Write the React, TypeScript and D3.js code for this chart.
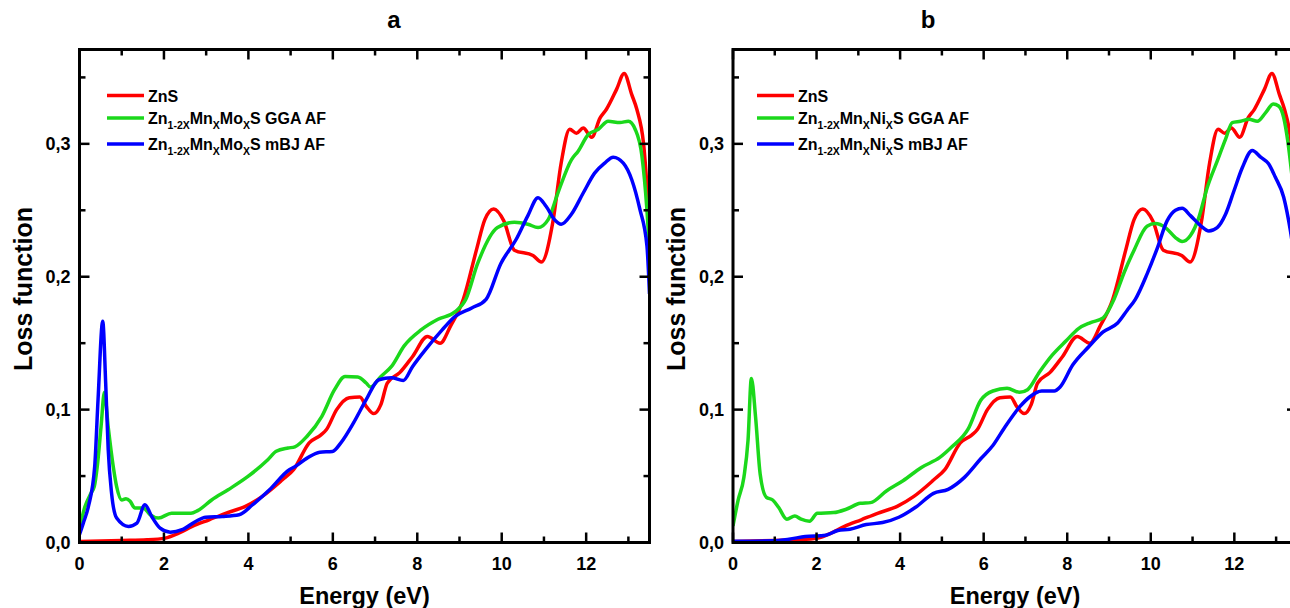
import React from "react";
import * as d3 from "d3";

// ---------- data ----------
const xTicksMajor = [0, 2, 4, 6, 8, 10, 12];
const xTicksMinor = [1, 3, 5, 7, 9, 11, 13];
const yTicksMajor = [0, 0.1, 0.2, 0.3];
const yTicksMinor = [0.05, 0.15, 0.25, 0.35];
const yTickLabels = ["0,0", "0,1", "0,2", "0,3"];
const panelTitles = ["a", "b"];

// ZnS (same in both panels)
const znsE = [0, 1, 1.6, 2.03, 2.35, 2.67, 3.07, 3.46, 3.93, 4.33, 4.8, 5.07, 5.44, 5.72, 5.85, 6.09, 6.39, 6.64, 6.79, 6.97, 7.14, 7.29, 7.59, 7.89, 8.24, 8.54, 8.79, 9.09, 9.4, 9.6, 9.81, 10.05, 10.3, 10.74, 10.94, 11.21, 11.41, 11.61, 11.77, 11.93, 12.13, 12.33, 12.48, 12.72, 12.9, 13.08, 13.2, 13.36, 13.5];
const znsV = [0.0008, 0.0015, 0.002, 0.0033, 0.0071, 0.0121, 0.0171, 0.022, 0.0272, 0.0347, 0.047, 0.0548, 0.075, 0.081, 0.085, 0.1, 0.109, 0.1095, 0.1025, 0.097, 0.104, 0.12, 0.128, 0.14, 0.155, 0.15, 0.163, 0.183, 0.22, 0.243, 0.251, 0.242, 0.22, 0.216, 0.211, 0.241, 0.286, 0.311, 0.308, 0.312, 0.305, 0.3195, 0.326, 0.341, 0.353, 0.337, 0.326, 0.3, 0.24];

// Panel a: Zn1-2xMnxMoxS GGA AF
const moGgaE = [0, 0.13, 0.27, 0.35, 0.42, 0.51, 0.59, 0.68, 0.8, 0.88, 1.0, 1.1, 1.2, 1.31, 1.51, 1.67, 1.87, 2.18, 2.64, 2.8, 3.13, 3.52, 3.99, 4.46, 4.66, 4.94, 5.1, 5.39, 5.74, 6.04, 6.29, 6.59, 6.79, 6.89, 7.14, 7.39, 7.69, 8.09, 8.49, 8.89, 9.15, 9.43, 9.9, 10.3, 10.62, 10.86, 11.1, 11.33, 11.65, 11.81, 12.05, 12.29, 12.52, 12.8, 13.0, 13.16, 13.32, 13.44, 13.5];
const moGgaV = [0.011, 0.027, 0.037, 0.042, 0.057, 0.087, 0.113, 0.087, 0.057, 0.042, 0.032, 0.033, 0.031, 0.026, 0.026, 0.021, 0.0184, 0.022, 0.022, 0.024, 0.032, 0.0397, 0.0497, 0.0623, 0.0686, 0.0711, 0.072, 0.08, 0.095, 0.115, 0.125, 0.1245, 0.12, 0.117, 0.125, 0.1325, 0.148, 0.16, 0.168, 0.1735, 0.183, 0.21, 0.237, 0.241, 0.2395, 0.237, 0.243, 0.263, 0.288, 0.2945, 0.307, 0.311, 0.317, 0.316, 0.317, 0.311, 0.291, 0.25, 0.22];

// Panel a: Zn1-2xMnxMoxS mBJ AF
const moMbjE = [0, 0.09, 0.21, 0.36, 0.44, 0.55, 0.62, 0.68, 0.76, 0.88, 1.16, 1.36, 1.55, 1.71, 1.91, 2.15, 2.43, 2.75, 2.99, 3.38, 3.78, 4.1, 4.5, 4.97, 5.1, 5.39, 5.69, 5.99, 6.19, 6.49, 6.79, 7.09, 7.39, 7.67, 7.89, 8.19, 8.59, 8.89, 9.29, 9.63, 9.98, 10.34, 10.62, 10.86, 11.05, 11.25, 11.41, 11.65, 11.93, 12.2, 12.44, 12.64, 12.88, 13.08, 13.27, 13.44, 13.5];
const moMbjV = [0.006, 0.0146, 0.027, 0.0573, 0.108, 0.1665, 0.12, 0.07, 0.037, 0.0184, 0.0121, 0.0146, 0.0284, 0.0196, 0.0108, 0.0078, 0.0096, 0.0158, 0.019, 0.0196, 0.0209, 0.0284, 0.0397, 0.0548, 0.057, 0.0635, 0.068, 0.0685, 0.075, 0.09, 0.1075, 0.1225, 0.124, 0.122, 0.1325, 0.145, 0.16, 0.17, 0.1765, 0.183, 0.21, 0.228, 0.246, 0.2595, 0.253, 0.243, 0.2395, 0.247, 0.263, 0.278, 0.2855, 0.29, 0.2855, 0.273, 0.251, 0.223, 0.187];

// Panel b: Zn1-2xMnxNixS GGA AF
const niGgaE = [0, 0.12, 0.26, 0.36, 0.44, 0.54, 0.65, 0.8, 0.95, 1.09, 1.29, 1.48, 1.63, 1.83, 2.02, 2.41, 2.71, 3.05, 3.29, 3.68, 4.07, 4.51, 4.95, 5.24, 5.63, 5.93, 6.22, 6.56, 6.86, 7.05, 7.34, 7.64, 7.98, 8.27, 8.56, 8.86, 9.12, 9.36, 9.6, 9.91, 10.11, 10.35, 10.59, 10.75, 10.95, 11.15, 11.35, 11.59, 11.79, 11.95, 12.15, 12.35, 12.55, 12.75, 12.93, 13.06, 13.18, 13.28, 13.4, 13.5];
const niGgaV = [0.0125, 0.0315, 0.049, 0.077, 0.1235, 0.0945, 0.0515, 0.034, 0.032, 0.0265, 0.0175, 0.02, 0.0175, 0.016, 0.022, 0.0225, 0.025, 0.0295, 0.03, 0.039, 0.0465, 0.0565, 0.064, 0.072, 0.0855, 0.107, 0.114, 0.116, 0.113, 0.115, 0.1285, 0.141, 0.152, 0.161, 0.1655, 0.169, 0.183, 0.203, 0.22, 0.238, 0.24, 0.237, 0.2295, 0.2265, 0.231, 0.2445, 0.267, 0.287, 0.3035, 0.316, 0.317, 0.3185, 0.317, 0.3235, 0.33, 0.3285, 0.32, 0.302, 0.27, 0.24];

// Panel b: Zn1-2xMnxNixS mBJ AF
const niMbjE = [0, 0.95, 1.34, 1.73, 2.22, 2.51, 2.8, 3.19, 3.58, 3.97, 4.37, 4.8, 5.15, 5.54, 5.93, 6.22, 6.51, 6.86, 7.1, 7.39, 7.69, 7.83, 8.13, 8.52, 8.86, 9.2, 9.44, 9.63, 9.91, 10.15, 10.39, 10.59, 10.75, 10.95, 11.19, 11.39, 11.59, 11.79, 11.99, 12.19, 12.43, 12.63, 12.82, 12.98, 13.18, 13.34, 13.5];
const niMbjV = [0.001, 0.0013, 0.0025, 0.0045, 0.0055, 0.009, 0.01, 0.0135, 0.015, 0.019, 0.0265, 0.037, 0.04, 0.049, 0.063, 0.073, 0.087, 0.102, 0.1095, 0.114, 0.114, 0.117, 0.1335, 0.1475, 0.1585, 0.165, 0.175, 0.183, 0.202, 0.221, 0.242, 0.25, 0.2515, 0.246, 0.2385, 0.2345, 0.237, 0.247, 0.2645, 0.282, 0.295, 0.29, 0.285, 0.275, 0.26, 0.235, 0.2];

const legendA = [
  [{ t: "ZnS" }],
  [{ t: "Zn" }, { t: "1-2X", s: 1 }, { t: "Mn" }, { t: "X", s: 1 }, { t: "Mo" }, { t: "X", s: 1 }, { t: "S GGA AF" }],
  [{ t: "Zn" }, { t: "1-2X", s: 1 }, { t: "Mn" }, { t: "X", s: 1 }, { t: "Mo" }, { t: "X", s: 1 }, { t: "S mBJ AF" }],
];
const legendB = [
  [{ t: "ZnS" }],
  [{ t: "Zn" }, { t: "1-2X", s: 1 }, { t: "Mn" }, { t: "X", s: 1 }, { t: "Ni" }, { t: "X", s: 1 }, { t: "S GGA AF" }],
  [{ t: "Zn" }, { t: "1-2X", s: 1 }, { t: "Mn" }, { t: "X", s: 1 }, { t: "Ni" }, { t: "X", s: 1 }, { t: "S mBJ AF" }],
];

const COLORS = ["#ff0000", "#1bd81b", "#0000ff"];
const FONT = "'Liberation Sans', Arial, Helvetica, sans-serif";

type Seg = { t: string; s?: number };

function zip(e: number[], v: number[]) {
  return e.map((x, i) => [x, v[i]] as [number, number]);
}

function Panel(props: {
  id: string;
  left: number;
  right: number;
  title: string;
  titleX: number;
  ylabelX: number;
  series: [number, number][][];
  legend: Seg[][];
  legendX: number;
}) {
  const { id, left, right, title, titleX, ylabelX, series, legend, legendX } = props;
  const top = 49.5;
  const bottom = 542.5;
  const x = d3.scaleLinear().domain([0, 13.5]).range([left, right]);
  const y = d3.scaleLinear().domain([0, 0.371]).range([bottom, top]);
  const line = d3
    .line<[number, number]>()
    .x((d) => x(d[0]))
    .y((d) => y(d[1]))
    .curve(d3.curveMonotoneX);
  const maj = 10;
  const min = 6;
  const legendY = [95.5, 118, 144];
  return (
    <g>
      <defs>
        <clipPath id={"clip" + id}>
          <rect x={left} y={top} width={right - left} height={bottom - top} />
        </clipPath>
      </defs>
      <text x={titleX} y={28} fontFamily={FONT} fontWeight="bold" fontSize={24} textAnchor="middle">
        {title}
      </text>
      <g clipPath={`url(#clip${id})`}>
        {series.map((s, i) => (
          <path key={i} d={line(s) || ""} fill="none" stroke={COLORS[i]} strokeWidth={3.5} strokeLinejoin="round" />
        ))}
      </g>
      {/* ticks */}
      <g stroke="#000" strokeWidth={2.5}>
        {xTicksMajor.map((t) => (
          <g key={"xm" + t}>
            <line x1={x(t)} x2={x(t)} y1={bottom} y2={bottom - maj} />
            <line x1={x(t)} x2={x(t)} y1={top} y2={top + maj} />
          </g>
        ))}
        {xTicksMinor.map((t) => (
          <g key={"xn" + t}>
            <line x1={x(t)} x2={x(t)} y1={bottom} y2={bottom - min} />
            <line x1={x(t)} x2={x(t)} y1={top} y2={top + min} />
          </g>
        ))}
        {yTicksMajor.map((t) => (
          <g key={"ym" + t}>
            <line x1={left} x2={left + maj} y1={y(t)} y2={y(t)} />
            <line x1={right} x2={right - maj} y1={y(t)} y2={y(t)} />
          </g>
        ))}
        {yTicksMinor.map((t) => (
          <g key={"yn" + t}>
            <line x1={left} x2={left + min} y1={y(t)} y2={y(t)} />
            <line x1={right} x2={right - min} y1={y(t)} y2={y(t)} />
          </g>
        ))}
      </g>
      <rect x={left} y={top} width={right - left} height={bottom - top} fill="none" stroke="#000" strokeWidth={3} />
      {/* tick labels */}
      <g fontFamily={FONT} fontWeight="bold" fontSize={18} fill="#000">
        {xTicksMajor.map((t) => (
          <text key={"xl" + t} x={x(t)} y={bottom + 27} textAnchor="middle">
            {String(t)}
          </text>
        ))}
        {yTicksMajor.map((t, i) => (
          <text key={"yl" + t} x={left - 9} y={y(t) + 6.5} textAnchor="end">
            {yTickLabels[i]}
          </text>
        ))}
      </g>
      <text
        x={(left + right) / 2}
        y={604}
        textAnchor="middle"
        fontFamily={FONT}
        fontWeight="bold"
        fontSize={23.5}
      >
        Energy (eV)
      </text>
      <text
        transform={`translate(${ylabelX},289) rotate(-90)`}
        textAnchor="middle"
        fontFamily={FONT}
        fontWeight="bold"
        fontSize={25}
      >
        Loss function
      </text>
      {/* legend */}
      {legend.map((segs, i) => (
        <g key={"lg" + i}>
          <line
            x1={legendX}
            x2={legendX + 37}
            y1={legendY[i]}
            y2={legendY[i]}
            stroke={COLORS[i]}
            strokeWidth={3.5}
          />
          <text x={legendX + 41} y={legendY[i] + 6.2} fontFamily={FONT} fontWeight="bold" fontSize={16}>
            {segs.map((sg, j) => {
              const prev = j > 0 ? segs[j - 1].s : 0;
              let dy = 0;
              if (sg.s && !prev) dy = 5;
              if (!sg.s && prev) dy = -5;
              return (
                <tspan key={j} dy={dy} fontSize={sg.s ? 10.5 : 16}>
                  {sg.t}
                </tspan>
              );
            })}
          </text>
        </g>
      ))}
    </g>
  );
}

export default function App() {
  const zns = zip(znsE, znsV);
  const seriesA = [zns, zip(moGgaE, moGgaV), zip(moMbjE, moMbjV)];
  const seriesB = [zns, zip(niGgaE, niGgaV), zip(niMbjE, niMbjV)];
  return (
    <svg
      width={1290}
      height={608}
      style={{ position: "absolute", left: 0, top: 0, background: "#fff" }}
    >
      <rect x={0} y={0} width={1290} height={608} fill="#fff" />
      <Panel
        id="a"
        left={79.5}
        right={649.5}
        title={panelTitles[0]}
        titleX={394}
        ylabelX={32}
        series={seriesA}
        legend={legendA}
        legendX={107}
      />
      <Panel
        id="b"
        left={733}
        right={1297}
        title={panelTitles[1]}
        titleX={928}
        ylabelX={685}
        series={seriesB}
        legend={legendB}
        legendX={757}
      />
    </svg>
  );
}
